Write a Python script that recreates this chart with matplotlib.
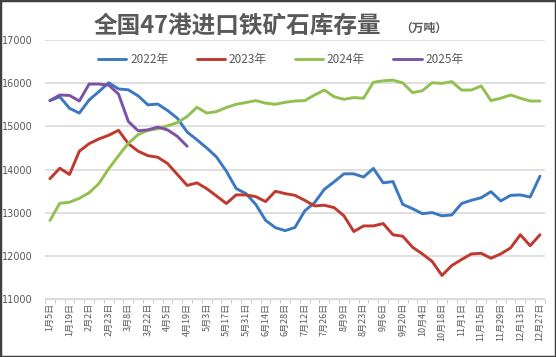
import numpy as np
import matplotlib
matplotlib.use("Agg")
import matplotlib.pyplot as plt
from matplotlib.patches import Rectangle

plt.rcParams['font.family'] = ['Noto Sans CJK SC', 'DejaVu Sans']

# weekly categories (labels shown every other week)
dates = ["1月5日", "1月12日", "1月19日", "1月26日", "2月2日", "2月16日", "2月23日", "3月1日",
         "3月8日", "3月15日", "3月22日", "3月29日", "4月5日", "4月12日", "4月19日", "4月26日",
         "5月3日", "5月10日", "5月17日", "5月24日", "5月31日", "6月7日", "6月14日", "6月21日",
         "6月28日", "7月5日", "7月12日", "7月19日", "7月26日", "8月2日", "8月9日", "8月16日",
         "8月23日", "8月30日", "9月6日", "9月13日", "9月20日", "9月27日", "10月4日", "10月11日",
         "10月18日", "10月25日", "11月1日", "11月8日", "11月15日", "11月22日", "11月29日",
         "12月6日", "12月13日", "12月20日", "12月27日"]

y2022 = [15600, 15690, 15420, 15310, 15615, 15810, 16015, 15870, 15850, 15710, 15500, 15520,
         15370, 15190, 14870, 14690, 14500, 14290, 13960, 13560, 13440, 13190, 12820, 12650,
         12580, 12655, 13040, 13230, 13540, 13715, 13900, 13900, 13825, 14025, 13690, 13720,
         13190, 13090, 12975, 13000, 12925, 12945, 13210, 13285, 13345, 13485, 13270, 13400,
         13410, 13360, 13845]
y2023 = [13785, 14030, 13885, 14425, 14600, 14710, 14795, 14910, 14600, 14425, 14320, 14285,
         14140, 13885, 13630, 13690, 13555, 13385, 13210, 13410, 13410, 13370, 13255, 13495,
         13440, 13400, 13285, 13155, 13170, 13115, 12925, 12560, 12690, 12690, 12745, 12485,
         12450, 12195, 12040, 11865, 11540, 11770, 11910, 12040, 12055, 11940, 12040, 12180,
         12485, 12230, 12485]
y2024 = [12815, 13215, 13240, 13330, 13460, 13675, 14020, 14320, 14610, 14810, 14910, 14945,
         15015, 15090, 15230, 15445, 15310, 15345, 15440, 15515, 15555, 15600, 15540, 15515,
         15560, 15590, 15600, 15730, 15845, 15690, 15630, 15670, 15655, 16025, 16060, 16075,
         16010, 15785, 15830, 16015, 16000, 16040, 15845, 15845, 15940, 15600, 15655, 15730,
         15655, 15590, 15590]
y2025 = [15600, 15730, 15720, 15590, 15985, 15985, 15960, 15750, 15115, 14900, 14920, 14985,
         14920, 14770, 14540]

series = [("2022年", y2022, "#3a78c3"), ("2023年", y2023, "#c0392f"),
          ("2024年", y2024, "#92c050"), ("2025年", y2025, "#7b52a6")]

fig = plt.figure(figsize=(5.56, 3.57), dpi=100)
ax = fig.add_axes([0.081, 0.1633, 0.899, 0.7238])

x = np.arange(len(dates))
for name, vals, col in series:
    ax.plot(x[:len(vals)], vals, color=col, lw=2.1, label=name, solid_capstyle='round')

ax.set_xlim(-0.5, len(dates) - 0.5)
ax.set_ylim(11000, 17000)
ax.set_yticks(np.arange(11000, 17001, 1000))
ax.set_xticks(x[::2])
ax.set_xticklabels(dates[::2], rotation=90, fontsize=6.5, color='#595959')
ax.set_xticks(np.arange(-0.5, len(dates), 1), minor=True)
ax.tick_params(axis='x', which='major', length=0, pad=3)
ax.tick_params(axis='x', which='minor', length=3, color='#bfbfbf')
ax.tick_params(axis='y', length=0, labelsize=7, labelcolor='#595959', pad=9)
for lab in ax.get_yticklabels():
    lab.set_fontfamily('DejaVu Sans')

for s in ['top', 'right', 'left']:
    ax.spines[s].set_visible(False)
ax.spines['bottom'].set_color('#d9d9d9')
ax.set_axisbelow(True)
ax.grid(axis='y', color='#d9d9d9', lw=1.2)

fig.text(94 / 556, 0.927, "全国47港进口铁矿石库存量", ha='left', va='center',
         fontsize=17, color='#595959', fontweight='bold')
fig.text(400 / 556, 0.922, "（万吨）", ha='left', va='center', fontsize=8.5,
         color='#595959', fontweight='bold')

leg = fig.legend(loc='center', bbox_to_anchor=(0.505, 1 - 60 / 357), ncol=4,
                 frameon=False, fontsize=8.5, handlelength=2.4, handletextpad=0.3,
                 columnspacing=2.4)
for t in leg.get_texts():
    t.set_color('#595959')

fig.patches.append(Rectangle((0, 0), 1, 1, transform=fig.transFigure, fill=False,
                             edgecolor='#404040', lw=2.5))

fig.savefig("out.png", dpi=100)
